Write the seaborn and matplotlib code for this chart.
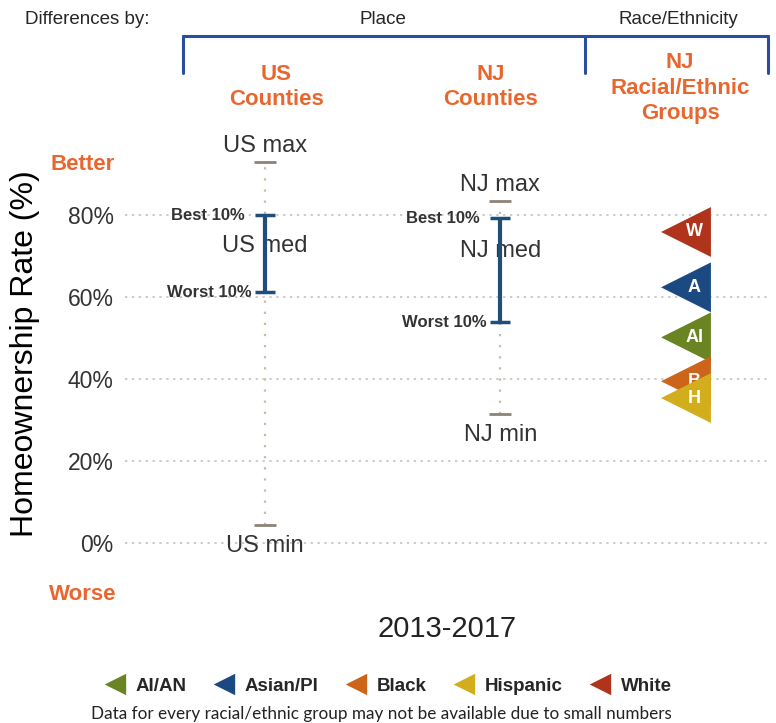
import matplotlib
matplotlib.use("Agg")
import matplotlib.pyplot as plt
from matplotlib.lines import Line2D
import seaborn as sns
import pandas as pd

# county spread (percent)
places = ["US", "NJ"]
place_x = [0.0, 1.0]
place_max = [92.9, 83.4]
place_best10 = [80.0, 79.3]
place_med = [72.4, 71.2]
place_worst10 = [61.2, 53.9]
place_min = [4.4, 31.5]

# racial/ethnic groups (NJ), drawn in this order
groups = ["White", "Asian/PI", "AI/AN", "Black", "Hispanic"]
group_letters = ["W", "A", "AI", "B", "H"]
group_values = [75.9, 62.4, 50.2, 39.5, 35.4]
group_colors = ["#b0341c", "#1b4a82", "#6a8424", "#cc6519", "#d2ad1c"]
race_x = 1.80

yticks = [0, 20, 40, 60, 80]

BLUE = "#1f4e79"
ORANGE = "#e8672e"
FONT = ["Liberation Sans", "DejaVu Sans"]

sns.set_style("white")
plt.rcParams["font.family"] = FONT

fig = plt.figure(figsize=(7.76, 7.23), dpi=100)
ax = fig.add_axes([0.161, 0.163, 0.832, 0.650])
ax.set_xlim(-0.596, 2.149)
ax.set_ylim(-15.1, 99.5)

for y in yticks:
    ax.axhline(y, color="#bdbdbd", lw=1.1, ls=(0, (1.5, 3)), zorder=0)

df_place = pd.DataFrame({"place": places, "x": place_x, "max": place_max,
                         "best": place_best10, "med": place_med,
                         "worst": place_worst10, "min": place_min})

for _, r in df_place.iterrows():
    x = r["x"]
    # dotted full range
    ax.vlines(x, r["min"], r["max"], color="#cbb9a6", lw=1.6, ls=(0, (1, 4)), zorder=1)
    # min / max ticks
    ax.plot([x, x], [r["max"], r["min"]], ls="none", marker="_", ms=16, mew=2,
            color="#8d8275", zorder=2)
    # median label sits under the bar
    ax.text(x, r["med"], f"{r['place']} med", ha="center", va="center",
            fontsize=17, color="#333333", zorder=2)
    ax.errorbar(x, (r["best"] + r["worst"]) / 2, yerr=(r["best"] - r["worst"]) / 2,
                fmt="none", ecolor=BLUE, elinewidth=3, capsize=7, capthick=2.5, zorder=3)
    ax.annotate(f"{r['place']} max", (x, r["max"]), xytext=(0, 4), textcoords="offset points",
                ha="center", va="bottom", fontsize=17, color="#333333")
    ax.annotate(f"{r['place']} min", (x, r["min"]), xytext=(0, -7), textcoords="offset points",
                ha="center", va="top", fontsize=17, color="#333333")
    ax.annotate("Best 10%", (x, r["best"]), xytext=(-15, 0), textcoords="offset points",
                ha="right", va="center", fontsize=12, fontweight="bold", color="#333333")
    ax.annotate("Worst 10%", (x, r["worst"]), xytext=(-10, 0), textcoords="offset points",
                ha="right", va="center", fontsize=12, fontweight="bold", color="#333333")

# racial/ethnic markers
flag = [(0.9, 1.0), (0.9, -1.0), (-1.1, 0.0)]
df_race = pd.DataFrame({"group": groups, "value": group_values, "x": race_x})
handles = {}
for i, (g, letter, c) in enumerate(zip(groups, group_letters, group_colors)):
    sns.scatterplot(data=df_race[df_race["group"] == g], x="x", y="value", ax=ax,
                    marker=flag, s=1560, color=c, edgecolor="none", linewidth=0,
                    label=g, zorder=4 + 2 * i, legend=False)
    ax.text(race_x + 0.025, group_values[i], letter, ha="center", va="center",
            color="white", fontsize=13, fontweight="bold", zorder=5 + 2 * i)
    handles[g] = Line2D([], [], ls="none", marker=flag, ms=17, color=c, mec="none")

sns.despine(ax=ax, left=True, bottom=True)
ax.set_xticks([])
ax.set_yticks(yticks)
ax.set_yticklabels([f"{v}%" for v in yticks], fontsize=16.5, color="#333333")
ax.tick_params(axis="y", length=0, pad=8)
ax.set_ylabel("Homeownership Rate (%)", fontsize=23, color="black")
ax.yaxis.set_label_coords(-0.132, 0.536)
ax.set_xlabel("2013-2017", fontsize=21, color="#222222")
ax.xaxis.set_label_coords(0.499, -0.02)

fig.text(0.106, 1 - 165 / 723, "Better", color=ORANGE, fontsize=16, fontweight="bold",
         ha="center", va="center")
fig.text(0.106, 1 - 595 / 723, "Worse", color=ORANGE, fontsize=16, fontweight="bold",
         ha="center", va="center")

# header
fig.text(87 / 776, 1 - 20 / 723, "Differences by:", fontsize=13.5, ha="center", va="center")
fig.text(383 / 776, 1 - 20 / 723, "Place", fontsize=13.5, ha="center", va="center")
fig.text(678 / 776, 1 - 20 / 723, "Race/Ethnicity", fontsize=13.5, ha="center", va="center")
yb = 1 - 36 / 723
yt = 1 - 73 / 723
for xs, ys in [([183, 768], [yb, yb]), ([183, 183], [yb, yt]),
               ([585, 585], [yb, yt]), ([768, 768], [yb, yt])]:
    fig.add_artist(Line2D([v / 776 for v in xs], ys, color="#2b4d9e", lw=2.2,
                          transform=fig.transFigure))
fig.text(276 / 776, 1 - 87 / 723, "US\nCounties", color=ORANGE, fontsize=16,
         fontweight="bold", ha="center", va="center", linespacing=1.3)
fig.text(491 / 776, 1 - 87 / 723, "NJ\nCounties", color=ORANGE, fontsize=16,
         fontweight="bold", ha="center", va="center", linespacing=1.3)
fig.text(680 / 776, 1 - 88 / 723, "NJ\nRacial/Ethnic\nGroups", color=ORANGE, fontsize=16,
         fontweight="bold", ha="center", va="center", linespacing=1.3)

legend_order = ["AI/AN", "Asian/PI", "Black", "Hispanic", "White"]
leg = fig.legend([handles[g] for g in legend_order], legend_order, loc="center",
                 bbox_to_anchor=(0.5, 1 - 686 / 723), ncol=5, frameon=False,
                 handletextpad=0.4, columnspacing=1.4, handlelength=1.3,
                 prop={"family": FONT, "weight": "bold", "size": 13.5})
fig.text(0.492, 1 - 714 / 723,
         "Data for every racial/ethnic group may not be available due to small numbers",
         fontsize=12.3, ha="center", va="center", color="#222222", family=["Lato", "DejaVu Sans"])

fig.savefig("out.png", dpi=100)
